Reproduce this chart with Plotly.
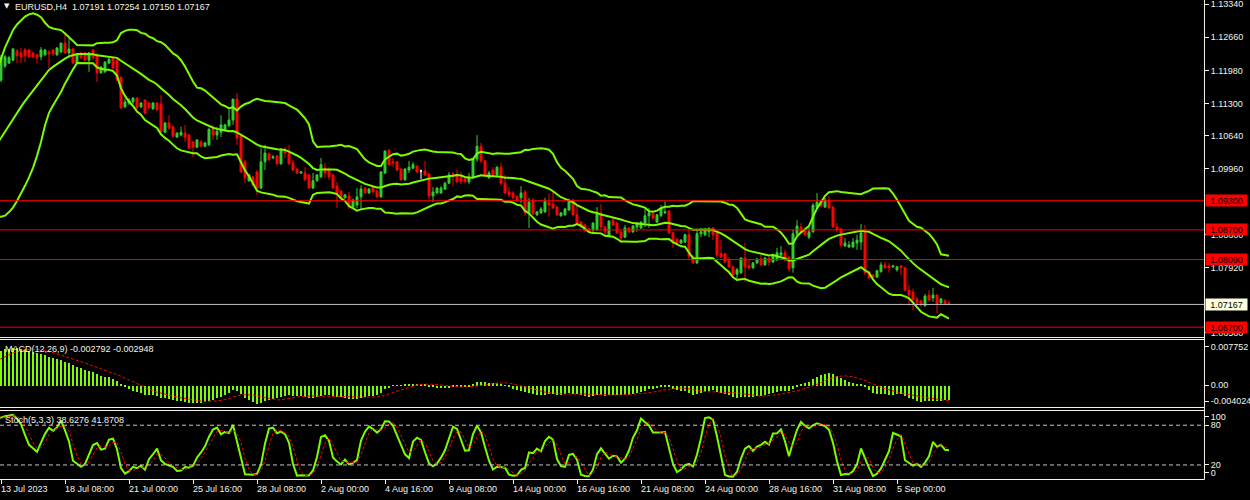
import numpy as np
import pandas as pd
import plotly.graph_objects as go

# ---------------- data (EURUSD H4) ----------------
# warm-up bars before the first visible bar (kept off-screen, feed the indicators)
warmup_open = [1.0885, 1.0882, 1.0878, 1.0870, 1.0865, 1.0872,
               1.0878, 1.0880, 1.0885, 1.0876, 1.0862, 1.0870,
               1.0888, 1.0892, 1.0898, 1.0905, 1.0945, 1.0960,
               1.0968, 1.0960, 1.0955, 1.0962, 1.0975, 1.0970,
               1.0970, 1.0975, 1.0985, 1.0995, 1.1005, 1.1010,
               1.1005, 1.1008, 1.1012, 1.1060, 1.1110, 1.1125,
               1.1130, 1.1135, 1.1150, 1.1165]
warmup_high = [1.0893, 1.0888, 1.0884, 1.0877, 1.0880, 1.0886,
               1.0888, 1.0893, 1.0891, 1.0882, 1.0878, 1.0895,
               1.0900, 1.0905, 1.0912, 1.0955, 1.0968, 1.0976,
               1.0975, 1.0966, 1.0968, 1.0982, 1.0981, 1.0978,
               1.0982, 1.0992, 1.1002, 1.1012, 1.1018, 1.1016,
               1.1014, 1.1020, 1.1072, 1.1122, 1.1134, 1.1138,
               1.1142, 1.1158, 1.1172, 1.1188]
warmup_low = [1.0876, 1.0872, 1.0864, 1.0858, 1.0860, 1.0866,
              1.0872, 1.0874, 1.0868, 1.0855, 1.0856, 1.0864,
              1.0882, 1.0886, 1.0892, 1.0898, 1.0938, 1.0953,
              1.0954, 1.0948, 1.0950, 1.0956, 1.0966, 1.0963,
              1.0964, 1.0970, 1.0978, 1.0988, 1.0998, 1.0999,
              1.0999, 1.1002, 1.1006, 1.1052, 1.1102, 1.1118,
              1.1124, 1.1130, 1.1144, 1.1160]
warmup_close = [1.0882, 1.0878, 1.0870, 1.0865, 1.0872, 1.0878,
                1.0880, 1.0885, 1.0876, 1.0862, 1.0870, 1.0888,
                1.0892, 1.0898, 1.0905, 1.0945, 1.0960, 1.0968,
                1.0960, 1.0955, 1.0962, 1.0975, 1.0970, 1.0970,
                1.0975, 1.0985, 1.0995, 1.1005, 1.1010, 1.1005,
                1.1008, 1.1012, 1.1060, 1.1110, 1.1125, 1.1130,
                1.1135, 1.1150, 1.1165, 1.1180]

# visible bars: 13 Jul 2023 16:00 ... 7 Sep 2023 04:00
opens = [
    1.1178, 1.1207, 1.1213, 1.1219, 1.1238, 1.1234, 1.1240, 1.1240, 1.1234, 1.1230,
    1.1226, 1.1230, 1.1236, 1.1240, 1.1230, 1.1236, 1.1254, 1.1234, 1.1242, 1.1213,
    1.1234, 1.1234, 1.1219, 1.1240, 1.1230, 1.1193, 1.1195, 1.1213, 1.1224, 1.1219,
    1.1184, 1.1123, 1.1131, 1.1133, 1.1141, 1.1123, 1.1137, 1.1131, 1.1119, 1.1131,
    1.1129, 1.1071, 1.1090, 1.1082, 1.1061, 1.1065, 1.1069, 1.1065, 1.1051, 1.1040,
    1.1051, 1.1042, 1.1045, 1.1077, 1.1065, 1.1071, 1.1075, 1.1084, 1.1096, 1.1139,
    1.1063, 1.1010, 1.0971, 1.0979, 1.0989, 1.0956, 1.1010, 1.1026, 1.1018, 1.1022,
    1.1006, 1.1036, 1.1028, 1.1008, 1.0995, 1.0987, 1.0987, 1.0983, 1.0956, 1.0971,
    1.0979, 1.0997, 1.0993, 1.0983, 1.0960, 1.0950, 1.0936, 1.0940, 1.0917, 1.0921,
    1.0938, 1.0956, 1.0946, 1.0958, 1.0950, 1.0938, 1.0987, 1.1034, 1.1010, 1.1010,
    1.0995, 1.0973, 1.0993, 1.0997, 1.1001, 1.0991, 1.0991, 1.0985, 1.0940, 1.0946,
    1.0946, 1.0954, 1.0966, 1.0985, 1.0983, 1.0977, 1.0975, 1.0969, 1.0977, 1.1016,
    1.1042, 1.1012, 1.0977, 1.0993, 1.0983, 1.0999, 1.0966, 1.0948, 1.0946, 1.0938,
    1.0936, 1.0948, 1.0905, 1.0931, 1.0901, 1.0905, 1.0907, 1.0927, 1.0923, 1.0917,
    1.0899, 1.0901, 1.0911, 1.0931, 1.0901, 1.0886, 1.0880, 1.0872, 1.0870, 1.0870,
    1.0905, 1.0876, 1.0857, 1.0890, 1.0884, 1.0866, 1.0855, 1.0874, 1.0866, 1.0876,
    1.0874, 1.0884, 1.0899, 1.0903, 1.0886, 1.0899, 1.0905, 1.0909, 1.0864, 1.0851,
    1.0843, 1.0845, 1.0860, 1.0816, 1.0802, 1.0862, 1.0860, 1.0866, 1.0874, 1.0864,
    1.0821, 1.0821, 1.0808, 1.0794, 1.0779, 1.0782, 1.0812, 1.0796, 1.0792, 1.0802,
    1.0810, 1.0798, 1.0812, 1.0804, 1.0808, 1.0818, 1.0823, 1.0814, 1.0792, 1.0862,
    1.0876, 1.0872, 1.0855, 1.0866, 1.0917, 1.0929, 1.0917, 1.0931, 1.0917, 1.0876,
    1.0872, 1.0837, 1.0835, 1.0835, 1.0843, 1.0845, 1.0866, 1.0784, 1.0777, 1.0773,
    1.0784, 1.0798, 1.0796, 1.0794, 1.0788, 1.0796, 1.0792, 1.0746, 1.0742, 1.0728,
    1.0724, 1.0714, 1.0736, 1.0730, 1.0736, 1.0720, 1.0724, 1.07191]
highs = [
    1.1230, 1.1230, 1.1228, 1.1244, 1.1242, 1.1244, 1.1244, 1.1242, 1.1236, 1.1232,
    1.1246, 1.1242, 1.1240, 1.1242, 1.1246, 1.1256, 1.1277, 1.1267, 1.1244, 1.1232,
    1.1236, 1.1236, 1.1236, 1.1242, 1.1234, 1.1207, 1.1217, 1.1224, 1.1226, 1.1221,
    1.1186, 1.1139, 1.1141, 1.1143, 1.1143, 1.1133, 1.1139, 1.1133, 1.1133, 1.1133,
    1.1147, 1.1092, 1.1106, 1.1084, 1.1071, 1.1082, 1.1086, 1.1067, 1.1053, 1.1057,
    1.1055, 1.1051, 1.1079, 1.1086, 1.1082, 1.1106, 1.1088, 1.1117, 1.1139, 1.1151,
    1.1065, 1.1014, 1.0985, 1.0981, 1.0993, 1.1038, 1.1045, 1.1030, 1.1024, 1.1024,
    1.1038, 1.1040, 1.1045, 1.1014, 1.0997, 1.0991, 1.0999, 1.0985, 1.0987, 1.0985,
    1.1018, 1.1008, 1.0999, 1.0985, 1.0969, 1.0952, 1.0944, 1.0948, 1.0934, 1.0956,
    1.0962, 1.0958, 1.0956, 1.0960, 1.0952, 1.0991, 1.1034, 1.1036, 1.1018, 1.1012,
    1.0997, 1.0997, 1.1012, 1.1010, 1.1004, 1.0994, 1.1012, 1.0987, 1.0958, 1.0958,
    1.0960, 1.0969, 1.0989, 1.0989, 1.0993, 1.0989, 1.0977, 1.0987, 1.1018, 1.1065,
    1.1049, 1.1014, 1.0991, 1.0999, 1.1001, 1.1008, 1.0983, 1.0958, 1.0950, 1.0942,
    1.0960, 1.0952, 1.0936, 1.0936, 1.0909, 1.0917, 1.0936, 1.0946, 1.0952, 1.0919,
    1.0907, 1.0915, 1.0934, 1.0934, 1.0921, 1.0888, 1.0882, 1.0874, 1.0886, 1.0917,
    1.0923, 1.0878, 1.0890, 1.0894, 1.0886, 1.0868, 1.0880, 1.0876, 1.0880, 1.0886,
    1.0888, 1.0915, 1.0915, 1.0907, 1.0903, 1.0921, 1.0929, 1.0911, 1.0866, 1.0853,
    1.0851, 1.0862, 1.0870, 1.0818, 1.0870, 1.0874, 1.0874, 1.0876, 1.0876, 1.0866,
    1.0849, 1.0823, 1.0814, 1.0796, 1.0792, 1.0814, 1.0843, 1.0808, 1.0804, 1.0812,
    1.0821, 1.0814, 1.0814, 1.0821, 1.0833, 1.0837, 1.0829, 1.0816, 1.0870, 1.0890,
    1.0884, 1.0874, 1.0876, 1.0925, 1.0946, 1.0931, 1.0936, 1.0940, 1.0919, 1.0884,
    1.0874, 1.0853, 1.0847, 1.0853, 1.0860, 1.0882, 1.0880, 1.0786, 1.0779, 1.0788,
    1.0804, 1.0804, 1.0802, 1.0798, 1.0796, 1.0798, 1.0794, 1.0757, 1.0749, 1.0732,
    1.0726, 1.0738, 1.0746, 1.0751, 1.0738, 1.0730, 1.0728, 1.07254]
lows = [
    1.1174, 1.1203, 1.1211, 1.1217, 1.1213, 1.1213, 1.1215, 1.1224, 1.1224, 1.1213,
    1.1219, 1.1228, 1.1203, 1.1228, 1.1228, 1.1234, 1.1232, 1.1224, 1.1211, 1.1211,
    1.1221, 1.1217, 1.1195, 1.1219, 1.1174, 1.1191, 1.1193, 1.1211, 1.1199, 1.1176,
    1.1119, 1.1121, 1.1127, 1.1129, 1.1119, 1.1121, 1.1108, 1.1119, 1.1117, 1.1114,
    1.1065, 1.1069, 1.1077, 1.1059, 1.1059, 1.1063, 1.1051, 1.1036, 1.1020, 1.1038,
    1.1040, 1.1040, 1.1042, 1.1055, 1.1055, 1.1061, 1.1073, 1.1082, 1.1086, 1.1045,
    1.0987, 1.0966, 1.0969, 1.0960, 1.0942, 1.0954, 1.0993, 1.1012, 1.1016, 1.1004,
    1.1004, 1.1018, 1.1004, 1.0991, 1.0985, 1.0985, 1.0971, 1.0954, 1.0954, 1.0969,
    1.0977, 1.0977, 1.0973, 1.0954, 1.0915, 1.0934, 1.0934, 1.0913, 1.0915, 1.0915,
    1.0913, 1.0944, 1.0944, 1.0946, 1.0936, 1.0936, 1.0985, 1.1001, 1.0999, 1.0991,
    1.0971, 1.0971, 1.0987, 1.0995, 1.0987, 1.0974, 1.0981, 1.0934, 1.0927, 1.0944,
    1.0944, 1.0952, 1.0964, 1.0960, 1.0966, 1.0964, 1.0966, 1.0964, 1.0975, 1.1010,
    1.1008, 1.0979, 1.0975, 1.0981, 1.0981, 1.0962, 1.0944, 1.0938, 1.0934, 1.0927,
    1.0925, 1.0899, 1.0874, 1.0901, 1.0899, 1.0903, 1.0905, 1.0897, 1.0913, 1.0899,
    1.0897, 1.0899, 1.0909, 1.0899, 1.0882, 1.0874, 1.0866, 1.0864, 1.0862, 1.0868,
    1.0870, 1.0855, 1.0855, 1.0878, 1.0862, 1.0843, 1.0853, 1.0864, 1.0864, 1.0866,
    1.0872, 1.0876, 1.0874, 1.0892, 1.0884, 1.0897, 1.0903, 1.0862, 1.0833, 1.0841,
    1.0841, 1.0843, 1.0808, 1.0800, 1.0800, 1.0855, 1.0857, 1.0855, 1.0849, 1.0812,
    1.0812, 1.0802, 1.0792, 1.0775, 1.0767, 1.0779, 1.0763, 1.0788, 1.0790, 1.0800,
    1.0796, 1.0796, 1.0796, 1.0802, 1.0806, 1.0816, 1.0806, 1.0784, 1.0782, 1.0857,
    1.0862, 1.0857, 1.0851, 1.0864, 1.0915, 1.0917, 1.0915, 1.0913, 1.0874, 1.0864,
    1.0835, 1.0835, 1.0833, 1.0833, 1.0829, 1.0829, 1.0777, 1.0769, 1.0771, 1.0771,
    1.0782, 1.0790, 1.0782, 1.0792, 1.0784, 1.0777, 1.0744, 1.0714, 1.0705, 1.0716,
    1.0712, 1.0712, 1.0722, 1.0722, 1.0699, 1.0718, 1.0716, 1.07150]
closes = [
    1.1224, 1.1226, 1.1224, 1.1242, 1.1228, 1.1226, 1.1228, 1.1226, 1.1226, 1.1224,
    1.1240, 1.1240, 1.1232, 1.1232, 1.1244, 1.1254, 1.1234, 1.1242, 1.1213, 1.1230,
    1.1224, 1.1219, 1.1234, 1.1224, 1.1193, 1.1205, 1.1215, 1.1221, 1.1203, 1.1178,
    1.1121, 1.1133, 1.1137, 1.1141, 1.1121, 1.1131, 1.1110, 1.1121, 1.1131, 1.1117,
    1.1073, 1.1090, 1.1079, 1.1063, 1.1069, 1.1071, 1.1061, 1.1038, 1.1040, 1.1055,
    1.1042, 1.1049, 1.1077, 1.1065, 1.1073, 1.1086, 1.1086, 1.1096, 1.1139, 1.1059,
    1.0989, 1.0977, 1.0983, 1.0962, 1.0956, 1.1010, 1.1028, 1.1014, 1.1020, 1.1006,
    1.1036, 1.1028, 1.1006, 1.0993, 1.0987, 1.0989, 1.0973, 1.0956, 1.0971, 1.0983,
    1.1004, 1.0987, 1.0979, 1.0956, 1.0946, 1.0936, 1.0942, 1.0917, 1.0931, 1.0938,
    1.0954, 1.0946, 1.0954, 1.0948, 1.0938, 1.0989, 1.1032, 1.1004, 1.1008, 1.0993,
    1.0973, 1.0995, 1.0999, 1.1004, 1.0989, 1.0991, 1.0983, 1.0940, 1.0948, 1.0956,
    1.0956, 1.0966, 1.0983, 1.0979, 1.0969, 1.0969, 1.0969, 1.0979, 1.1016, 1.1042,
    1.1012, 1.0981, 1.0987, 1.0983, 1.0999, 1.0966, 1.0946, 1.0942, 1.0936, 1.0931,
    1.0946, 1.0905, 1.0927, 1.0903, 1.0907, 1.0913, 1.0929, 1.0921, 1.0915, 1.0901,
    1.0905, 1.0913, 1.0931, 1.0901, 1.0884, 1.0876, 1.0868, 1.0866, 1.0884, 1.0905,
    1.0876, 1.0866, 1.0888, 1.0880, 1.0864, 1.0853, 1.0874, 1.0866, 1.0878, 1.0884,
    1.0886, 1.0899, 1.0905, 1.0894, 1.0901, 1.0913, 1.0907, 1.0864, 1.0845, 1.0843,
    1.0849, 1.0860, 1.0816, 1.0802, 1.0862, 1.0866, 1.0870, 1.0870, 1.0860, 1.0818,
    1.0814, 1.0804, 1.0794, 1.0777, 1.0788, 1.0812, 1.0794, 1.0792, 1.0802, 1.0810,
    1.0798, 1.0812, 1.0804, 1.0818, 1.0823, 1.0823, 1.0808, 1.0790, 1.0862, 1.0878,
    1.0864, 1.0860, 1.0866, 1.0921, 1.0927, 1.0919, 1.0931, 1.0915, 1.0876, 1.0870,
    1.0839, 1.0843, 1.0839, 1.0845, 1.0849, 1.0864, 1.0782, 1.0771, 1.0773, 1.0786,
    1.0798, 1.0792, 1.0792, 1.0796, 1.0794, 1.0792, 1.0746, 1.0736, 1.0726, 1.0720,
    1.0716, 1.0734, 1.0726, 1.0736, 1.0718, 1.0728, 1.0718, 1.07167]

time_labels = ["13 Jul 2023", "18 Jul 08:00", "21 Jul 00:00", "25 Jul 16:00",
               "28 Jul 08:00", "2 Aug 00:00", "4 Aug 16:00", "9 Aug 08:00",
               "14 Aug 00:00", "16 Aug 16:00", "21 Aug 08:00", "24 Aug 00:00",
               "28 Aug 16:00", "31 Aug 08:00", "5 Sep 00:00"]
bars_per_label = 16

level_lines = [1.09300, 1.08700, 1.08090, 1.06700]
bid_price = 1.07167
price_ticks = [1.13340, 1.12660, 1.11980, 1.11300, 1.10640, 1.09960,
               1.08600, 1.07920, 1.06580]
macd_tick_text = ["0.007752", "0.00", "-0.004024"]
stoch_tick_text = ["100", "80", "20", "0"]

header_text = "EURUSD,H4&nbsp;&nbsp;1.07191 1.07254 1.07150 1.07167"
macd_text = "MACD(12,26,9) -0.002792 -0.002948"
stoch_text = "Stoch(5,3,3) 38.6276 41.8708"

# ---------------- indicators ----------------
n_pre = len(warmup_close)
o = np.array(warmup_open + opens, dtype=float)
h = np.array(warmup_high + highs, dtype=float)
l = np.array(warmup_low + lows, dtype=float)
c = np.array(warmup_close + closes, dtype=float)
x = np.arange(-n_pre, len(closes))

cs = pd.Series(c)
bb_mid = cs.rolling(20).mean()
bb_sd = cs.rolling(20).std(ddof=0)
bb_up = bb_mid + 2 * bb_sd
bb_lo = bb_mid - 2 * bb_sd

macd = cs.ewm(span=12, adjust=False).mean() - cs.ewm(span=26, adjust=False).mean()
macd_sig = macd.rolling(9).mean()

ll5 = pd.Series(l).rolling(5).min()
hh5 = pd.Series(h).rolling(5).max()
st_k = 100 * (cs - ll5).rolling(3).sum() / (hh5 - ll5).rolling(3).sum()
st_d = st_k.rolling(3).mean()

# ---------------- styling ----------------
BG = "#000000"
FG = "#F4F4E8"
BULL = "#32CD32"
BEAR = "#FF0000"
IND = "#7CFC00"
FONT = "Liberation Sans, Arial, sans-serif"
W, HGT = 1250, 500
M_R, M_B = 46, 21
PH = HGT - M_B          # plot-area height in px


def py(px):
    """paper y of a pixel row measured from the top of the plot area"""
    return 1 - px / PH


fig = go.Figure()

doji = o == c
fig.add_trace(go.Candlestick(
    x=x, open=np.where(doji, np.nan, o), high=np.where(doji, np.nan, h),
    low=np.where(doji, np.nan, l), close=np.where(doji, np.nan, c),
    increasing=dict(line=dict(color=BULL, width=1), fillcolor=BULL),
    decreasing=dict(line=dict(color=BEAR, width=1), fillcolor=BEAR),
    whiskerwidth=0, xaxis="x", yaxis="y", hoverinfo="skip"))
fig.add_trace(go.Candlestick(
    x=x[doji], open=o[doji], high=h[doji], low=l[doji], close=c[doji],
    increasing=dict(line=dict(color="#FFFFFF", width=1), fillcolor="#FFFFFF"),
    decreasing=dict(line=dict(color="#FFFFFF", width=1), fillcolor="#FFFFFF"),
    whiskerwidth=0, xaxis="x", yaxis="y", hoverinfo="skip"))

for band in (bb_up, bb_mid, bb_lo):
    fig.add_trace(go.Scatter(x=x, y=band, mode="lines", line=dict(color=IND, width=2),
                             xaxis="x", yaxis="y", hoverinfo="skip"))

fig.add_trace(go.Bar(x=x, y=macd, width=0.7, marker=dict(color=IND, line=dict(width=0)),
                     xaxis="x2", yaxis="y2", hoverinfo="skip"))
fig.add_trace(go.Scatter(x=x, y=macd_sig, mode="lines",
                         line=dict(color=BEAR, width=1, dash="3px,2px"),
                         xaxis="x2", yaxis="y2", hoverinfo="skip"))

fig.add_trace(go.Scatter(x=x, y=st_k, mode="lines", line=dict(color=IND, width=2),
                         xaxis="x3", yaxis="y3", hoverinfo="skip"))
fig.add_trace(go.Scatter(x=x, y=st_d, mode="lines",
                         line=dict(color=BEAR, width=1, dash="3px,2px"),
                         xaxis="x3", yaxis="y3", hoverinfo="skip"))

xr = [-0.25, (W - M_R) / 4 - 0.25]
tick_pos = [i * bars_per_label for i in range(len(time_labels))]
xcommon = dict(range=xr, showgrid=False, zeroline=False, showline=False,
               fixedrange=True)

# ---- window geometry (pixel rows from the top of the plot area) ----
p_top = 1.13428
p_per_px = 0.00020566
main_bottom_px = 336.5
macd_top_px, macd_bot_px = 339.5, 407.5
macd_zero_px, macd_per_px = 385.0, 0.000195
stoch_top_px = 410.0
macd_range = [-(macd_bot_px - macd_zero_px) * macd_per_px,
              (macd_zero_px - macd_top_px) * macd_per_px]
# MetaTrader prints the max/min labels of a sub-window just inside its edges
macd_tickvals = [(macd_zero_px - 346.7) * macd_per_px, 0.0,
                 -(401.0 - macd_zero_px) * macd_per_px]
stoch_tickvals = [92.5, 80, 20, 8.4]

tickfont = dict(family=FONT, size=9, color=FG)
ycommon = dict(side="right", showgrid=False, zeroline=False, showline=False,
               ticks="outside", ticklen=4, tickcolor=FG, tickwidth=1,
               tickfont=tickfont, fixedrange=True, ticklabeloverflow="allow")

fig.update_layout(
    width=W, height=HGT,
    margin=dict(l=0, r=M_R, t=0, b=M_B, pad=0, autoexpand=False),
    paper_bgcolor=BG, plot_bgcolor=BG, showlegend=False, hovermode=False,
    bargap=0,
    xaxis=dict(domain=[0, 1], anchor="y", showticklabels=False, ticks="",
               rangeslider=dict(visible=False), **xcommon),
    xaxis2=dict(domain=[0, 1], anchor="y2", matches="x", showticklabels=False,
                ticks="", **xcommon),
    xaxis3=dict(domain=[0, 1], anchor="y3", matches="x", showticklabels=False,
                ticks="outside", ticklen=4, tickcolor=FG, tickwidth=1,
                tickmode="array", tickvals=tick_pos, **xcommon),
    yaxis=dict(domain=[py(main_bottom_px), 1], anchor="x",
               range=[p_top - p_per_px * main_bottom_px, p_top],
               tickmode="array", tickvals=price_ticks,
               ticktext=[f"{v:.5f}" for v in price_ticks], **ycommon),
    yaxis2=dict(domain=[py(macd_bot_px), py(macd_top_px)], anchor="x2",
                range=macd_range, tickmode="array",
                tickvals=macd_tickvals, ticktext=macd_tick_text, **ycommon),
    yaxis3=dict(domain=[0, py(stoch_top_px)], anchor="x3", range=[-1.2, 103],
                tickmode="array", tickvals=stoch_tickvals,
                ticktext=stoch_tick_text, **ycommon),
)

shapes = []
for lv in level_lines:
    shapes.append(dict(type="line", xref="paper", x0=0, x1=1, yref="y", y0=lv, y1=lv,
                       line=dict(color=BEAR, width=1)))
shapes.append(dict(type="line", xref="paper", x0=0, x1=1, yref="y", y0=bid_price,
                   y1=bid_price, line=dict(color="#C0C0C0", width=1)))
for lv in (80, 20):
    shapes.append(dict(type="line", xref="paper", x0=0, x1=1, yref="y3", y0=lv, y1=lv,
                       line=dict(color="#C8C8C8", width=1, dash="4px,3px")))
for px in (337.5, 339.5, 407.5, 410.5, 479.5):
    shapes.append(dict(type="line", xref="paper", x0=0, x1=1.0004, yref="paper",
                       y0=py(px), y1=py(px), line=dict(color=FG, width=1)))
shapes.append(dict(type="line", xref="paper", x0=1.0004, x1=1.0004, yref="paper",
                   y0=py(479.5), y1=1, line=dict(color=FG, width=1)))
fig.update_layout(shapes=shapes)

ann = []
ann.append(dict(text="▼", xref="paper", yref="paper", x=0, y=1, xanchor="left",
                yanchor="middle", xshift=2, yshift=-6, showarrow=False,
                font=dict(family="DejaVu Sans", size=7, color=FG)))
ann.append(dict(text=header_text, xref="paper", yref="paper", x=0, y=1,
                xanchor="left", yanchor="middle", xshift=13, yshift=-7,
                showarrow=False, font=dict(family=FONT, size=9, color=FG)))
ann.append(dict(text=macd_text, xref="paper", yref="paper", x=0, y=py(349),
                xanchor="left", yanchor="middle", xshift=3, showarrow=False,
                font=dict(family=FONT, size=9, color=FG)))
ann.append(dict(text=stoch_text, xref="paper", yref="paper", x=0, y=py(420),
                xanchor="left", yanchor="middle", xshift=3, showarrow=False,
                font=dict(family=FONT, size=9, color=FG)))
for pos, lab in zip(tick_pos, time_labels):
    ann.append(dict(text=lab, xref="x3", yref="paper", x=pos, y=0,
                    xanchor="left", yanchor="middle", xshift=-2, yshift=-9.5,
                    showarrow=False, font=dict(family=FONT, size=9, color=FG)))
for lv in level_lines:
    ann.append(dict(text=f"{lv:.5f}", xref="paper", yref="y", x=1, y=lv,
                    xanchor="left", yanchor="middle", xshift=1, showarrow=False,
                    bgcolor=BEAR, borderpad=1, width=39, height=9,
                    font=dict(family=FONT, size=9, color="#000000")))
ann.append(dict(text=f"{bid_price:.5f}", xref="paper", yref="y", x=1, y=bid_price,
                xanchor="left", yanchor="middle", xshift=1, showarrow=False,
                bgcolor="#FFFFE0", borderpad=1, width=39, height=9,
                font=dict(family=FONT, size=9, color="#000000")))
fig.update_layout(annotations=ann)

fig.write_html("out.html", config={"displayModeBar": False},
               post_script="document.body.style.margin='0px';"
                           "document.body.style.padding='0px';")
